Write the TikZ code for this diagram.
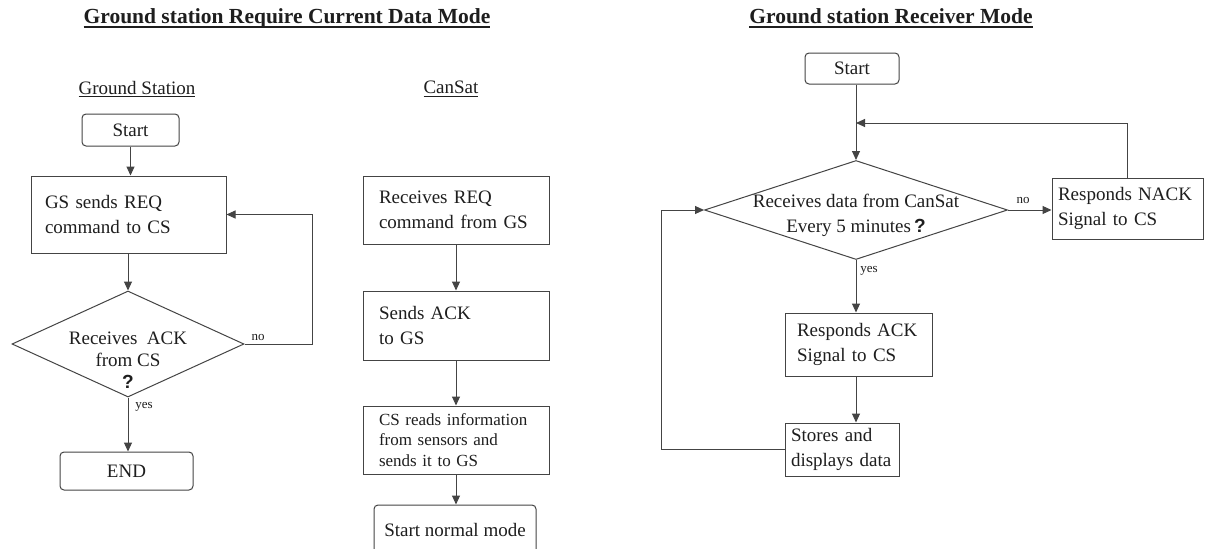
\documentclass[tikz,border=0pt]{standalone}
\usepackage{fontspec}
\setmainfont{Liberation Serif}
\newfontfamily\qfont{Liberation Sans}
\usetikzlibrary{shapes.geometric,arrows.meta}
\newcommand\myul[3]{\setbox0=\hbox{#3}\leavevmode\rlap{\rule[-#1]{\wd0}{#2}}\box0}
\definecolor{ln}{HTML}{444444}
\definecolor{tx}{HTML}{1E1E1E}
\tikzset{
  every node/.style={text=tx},
  conn/.style={draw=ln, line width=1pt},
  arr/.style={conn, -{Triangle[length=9pt,width=8pt]}},
  boxnode/.style={draw=ln, line width=1pt, rectangle, align=left, inner ysep=0pt,
     font=\fontsize{19}{25}\selectfont},
  termnode/.style={draw=ln, line width=1pt, rectangle, rounded corners=4pt, align=center,
     inner sep=0pt, font=\fontsize{19}{25}\selectfont},
  decnode/.style={draw=ln, line width=1pt, diamond, inner sep=0pt},
  dectext/.style={align=center, inner sep=0pt},
  titlenode/.style={font=\bfseries\fontsize{21.5}{25}\selectfont, inner sep=0pt},
  sublabel/.style={font=\fontsize{19}{25}\selectfont, inner sep=0pt},
  small/.style={font=\fontsize{13}{15}\selectfont, inner sep=0pt},
}
\begin{document}
\begin{tikzpicture}[x=1pt,y=-1pt]
\useasboundingbox (0,0) rectangle (1216,549);
\clip (0,0) rectangle (1216,549);
\fill[white] (0,0) rectangle (1216,549);

% ---------- Left: Require Current Data Mode ----------
\node[titlenode] (title1) at (287,18) {\myul{4.5pt}{1.5pt}{Ground station Require Current Data Mode}};
\node[sublabel] (gslab) at (137,89) {\myul{3pt}{1pt}{Ground Station}};
\node[sublabel] (cslab) at (451,89) {\myul{3pt}{1pt}{CanSat}};

\node[termnode, minimum width=97pt, minimum height=32pt] (start1) at (130.5,130) {Start};
\node[boxnode, inner xsep=14pt, text width=167pt, minimum height=77pt] (gs) at (128.5,214.5)
  {GS sends REQ\\command to CS};
\node[decnode, minimum width=232pt, minimum height=106pt] (d1) at (128,344) {};
\node[dectext, font=\fontsize{19}{22}\selectfont] (d1t) at (128,360)
  {Receives~ ACK\\from CS\\{\qfont\bfseries ?}};
\node[termnode, minimum width=133pt, minimum height=38pt] (end1) at (126.5,471) {END};
\coordinate (loop1) at (312,344);

\draw[arr] (start1.south) -- (start1.south |- gs.north);
\draw[arr] (gs.south -| d1.north) -- (d1.north);
\draw[arr] (d1.east) -- (loop1) |- (gs.east);
\draw[arr] (d1.south) -- (d1.south |- end1.north);
\node[small] (no1) at (258,337) {no};
\node[small] (yes1) at (144,407) {yes};

% CanSat column
\node[boxnode, inner xsep=16pt, text width=154pt, minimum height=68pt] (r1) at (456,210)
  {Receives REQ\\command from GS};
\node[boxnode, inner xsep=16pt, text width=154pt, minimum height=69pt] (r2) at (456,325.5)
  {Sends ACK\\to GS};
\node[boxnode, inner xsep=16pt, text width=154pt, minimum height=68pt, font=\fontsize{17}{20.5}\selectfont] (r3) at (456,440)
  {CS reads information\\from sensors and\\sends it to GS};
\node[termnode, minimum width=162pt, minimum height=50pt] (r4) at (455,530) {Start normal mode};

\draw[arr] (r1.south) -- (r2.north);
\draw[arr] (r2.south) -- (r3.north);
\draw[arr] (r3.south) -- (r3.south |- r4.north);

% ---------- Right: Receiver Mode ----------
\node[titlenode] (title2) at (891,18) {\myul{4.5pt}{1.5pt}{Ground station Receiver Mode}};
\node[termnode, minimum width=94pt, minimum height=31pt] (start2) at (852,68.5) {Start};
\node[decnode, minimum width=303pt, minimum height=99pt] (d2) at (856,210) {};
\node[dectext, font=\fontsize{19}{25}\selectfont] (d2t) at (856,215.5)
  {Receives data from CanSat\\Every 5 minutes\,{\qfont\bfseries ?}};
\node[boxnode, inner xsep=6pt, text width=139pt, minimum height=61pt] (nack) at (1127.5,208.5)
  {Responds NACK\\Signal to CS};
\node[boxnode, inner xsep=12pt, text width=123pt, minimum height=63pt] (ack) at (858.5,344.5)
  {Responds ACK\\Signal to CS};
\node[boxnode, inner xsep=6pt, text width=102pt, minimum height=53pt] (store) at (842,449.5)
  {Stores and\\displays data};
\coordinate (join) at (856,123);
\coordinate (loop2) at (661.5,449.5);

\draw[conn] (d2.north |- start2.south) -- (join);
\draw[arr] (join) -- (d2.north);
\draw[arr] (nack.north) |- (join);
\draw[arr] (d2.east) -- (d2.east -| nack.west);
\draw[arr] (d2.south) -- (d2.south |- ack.north);
\draw[arr] (d2.south |- ack.south) -- (d2.south |- store.north);
\draw[arr] (store.west) -- (loop2) |- (d2.west);
\node[small] (no2) at (1023,200) {no};
\node[small] (yes2) at (869,271) {yes};
\end{tikzpicture}
\end{document}
